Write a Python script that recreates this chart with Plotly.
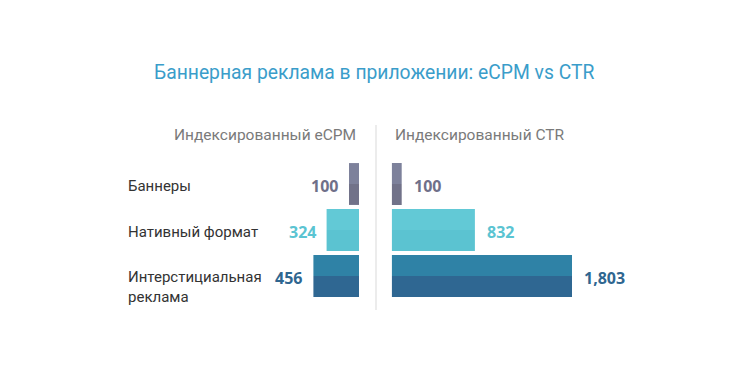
import plotly.graph_objects as go

categories = ["Баннеры", "Нативный формат", "Интерстициальная<br>реклама"]
ecpm = [100, 324, 456]
ctr = [100, 832, 1803]
ecpm_labels = ["100", "324", "456"]
ctr_labels = ["100", "832", "1,803"]
top_colors = ["#7d819b", "#62c9d6", "#2f82a6"]
bottom_colors = ["#717289", "#5bc3d1", "#2f6792"]
text_colors = ["#6f7089", "#5bc4d2", "#2f6690"]

ypos = list(range(len(categories)))
half = 0.455

fig = go.Figure()
for xs, xa in [(ecpm, "x"), (ctr, "x2")]:
    fig.add_trace(go.Bar(x=xs, y=ypos, orientation="h", width=half, offset=-half,
                         marker=dict(color=top_colors, line=dict(width=0)),
                         xaxis=xa, yaxis="y", showlegend=False, hoverinfo="skip"))
    fig.add_trace(go.Bar(x=xs, y=ypos, orientation="h", width=half, offset=0,
                         marker=dict(color=bottom_colors, line=dict(width=0)),
                         xaxis=xa, yaxis="y", showlegend=False, hoverinfo="skip"))

# page has 8px body margin; work in page pixels and convert
OFF = 8
W, H = 734, 355


def px(x):
    return (x - OFF) / W


def py(y):
    return 1 - (y - OFF) / H


left_lo, left_hi = 290, 359
right_lo, right_hi = 391.7, 640
scale = 10  # units per pixel

fig.update_layout(
    width=W, height=H, margin=dict(l=0, r=0, t=0, b=0),
    paper_bgcolor="white", plot_bgcolor="white",
    barmode="overlay",
    font=dict(family="Roboto", color="#333333"),
    xaxis=dict(domain=[px(left_lo), px(left_hi)], range=[(left_hi - left_lo) * scale, 0],
               visible=False, fixedrange=True),
    xaxis2=dict(domain=[px(right_lo), px(right_hi)], range=[0, (right_hi - right_lo) * scale],
                visible=False, fixedrange=True),
    yaxis=dict(domain=[py(299), py(161)], range=[2.5, -0.5], visible=False,
               fixedrange=True),
)

ann = []
ann.append(dict(text="Баннерная реклама в приложении: eCPM vs CTR", x=px(374), y=py(73),
                xref="paper", yref="paper", showarrow=False, xanchor="center", yanchor="middle",
                font=dict(size=19.3, color="#3a9dca", family="Roboto")))
ann.append(dict(text="Индексированный eCPM", x=px(358), y=py(135), xref="paper", yref="paper",
                showarrow=False, xanchor="right", yanchor="middle",
                font=dict(size=15.5, color="#7a7a7a", family="Roboto")))
ann.append(dict(text="Индексированный CTR", x=px(393), y=py(135), xref="paper", yref="paper",
                showarrow=False, xanchor="left", yanchor="middle",
                font=dict(size=15.5, color="#7a7a7a", family="Roboto")))
for i, c in enumerate(categories):
    multi = "<br>" in c
    ann.append(dict(text=c, x=px(126), y=i, xref="paper", yref="y", showarrow=False,
                    xanchor="left", yanchor="top" if multi else "middle", align="left",
                    yshift=10 if multi else -1.5,
                    font=dict(size=15, color="#333333", family="Roboto")))
for i in ypos:
    ann.append(dict(text="<b>%s</b>" % ecpm_labels[i], x=ecpm[i], y=i, xref="x", yref="y",
                    showarrow=False, xanchor="right", yanchor="middle", xshift=-9, yshift=-1.5,
                    font=dict(size=16, color=text_colors[i], family="Open Sans")))
    ann.append(dict(text="<b>%s</b>" % ctr_labels[i], x=ctr[i], y=i, xref="x2", yref="y",
                    showarrow=False, xanchor="left", yanchor="middle", xshift=10, yshift=-1.5,
                    font=dict(size=16, color=text_colors[i], family="Open Sans")))
fig.update_layout(annotations=ann)

fig.add_shape(type="line", xref="paper", yref="paper", x0=px(376), x1=px(376),
              y0=py(125), y1=py(310), line=dict(color="#e6e6e6", width=1.5))

fig.write_html("out.html")
